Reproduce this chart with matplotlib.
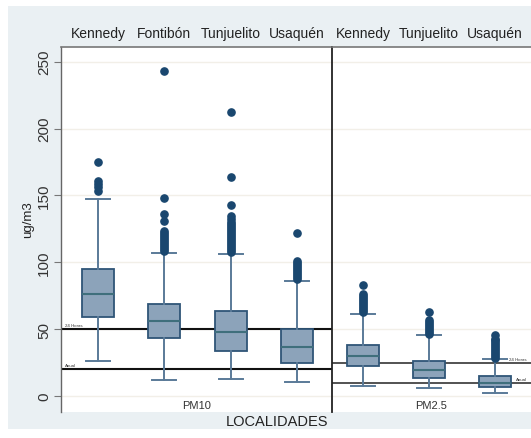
import matplotlib
matplotlib.use('Agg')
import matplotlib.pyplot as plt
from matplotlib.patches import Rectangle

plt.rcParams['font.family'] = ['Liberation Sans', 'DejaVu Sans']

# ---------------- data ----------------
pm10_sites = ['Kennedy', 'Fontibón', 'Tunjuelito', 'Usaquén']
pm10_whislo = [26.5, 12, 12.5, 10.2]
pm10_q1 = [59, 43.4, 33.9, 24.7]
pm10_med = [76.3, 55.9, 47.7, 36.4]
pm10_q3 = [94.6, 68.6, 63.6, 50.4]
pm10_whishi = [147.5, 107, 106.5, 86.3]
pm10_fliers = [
    [153, 156, 158.7, 161, 175],
    [108.5, 110, 111.5, 113, 114.5, 116, 117.5, 119, 120.5, 122, 123.7,
     130.5, 136, 148, 243],
    [107.5, 109, 110.5, 112, 113.5, 115, 116.5, 118, 119.5, 121, 122.5,
     124, 125.5, 127, 128.5, 130, 132, 134.6, 143, 164, 212.5],
    [87.5, 89, 90.5, 92, 93.5, 95, 96.5, 98, 99.5, 101, 122],
]

pm25_sites = ['Kennedy', 'Tunjuelito', 'Usaquén']
pm25_whislo = [7.7, 5.7, 2.2]
pm25_q1 = [22.5, 13.2, 7.0]
pm25_med = [30.2, 19.7, 9.7]
pm25_q3 = [38.2, 26.0, 15.0]
pm25_whishi = [61.6, 45.9, 27.7]
pm25_fliers = [
    [62.5, 64, 65.5, 67, 68.5, 70, 71.5, 73, 74.5, 76, 83.3],
    [46.5, 48, 49.5, 51, 52.5, 54, 55.5, 56.5, 62.6],
    [28.5, 30, 31.5, 33, 34.5, 36, 37.5, 39, 40.5, 42, 42.7, 45.6],
]

pm10_limits = [50, 20]
pm25_limits = [25, 10]
limit_labels = ['24 Horas', 'Anual']
panel_labels = ['PM10', 'PM2.5']
yticks = [0, 50, 100, 150, 200, 250]

# ---------------- style ----------------
BG = '#eaf0f3'
BOX_FILL = '#8ca3ba'
BOX_EDGE = '#2f5577'
MED = '#3f6f7c'
WHISK = '#5a7a98'
FLIER = '#1a476f'

W, H = 531, 439
fig = plt.figure(figsize=(W / 100, H / 100), dpi=100, facecolor='white')
fig.patches.append(Rectangle((8 / W, 1 - 430 / H), 1 - 8 / W, (430 - 7) / H,
                             transform=fig.transFigure, facecolor=BG,
                             edgecolor='none', zorder=-10))

top_px, bot_px = 48, 413
x0, xdiv, x1 = 61, 332, 531
ax1 = fig.add_axes([x0 / W, 1 - bot_px / H, (xdiv - x0) / W, (bot_px - top_px) / H])
ax2 = fig.add_axes([xdiv / W, 1 - bot_px / H, (x1 - xdiv) / W, (bot_px - top_px) / H],
                   sharey=ax1)

YLIM = (-12, 261)


def make_stats(lo, q1, med, q3, hi, fl):
    return [dict(whislo=a, q1=b, med=c, q3=d, whishi=e, fliers=f)
            for a, b, c, d, e, f in zip(lo, q1, med, q3, hi, fl)]


def draw_panel(ax, stats, sites, limits, xlim, label_side, panel_label, ref_color, ref_lw):
    ax.set_facecolor('white')
    for y in yticks:
        ax.axhline(y, color='#f2efe8', lw=1.0, zorder=0)
    pos = list(range(1, len(stats) + 1))
    ax.bxp(stats, positions=pos, widths=0.48, patch_artist=True,
           showfliers=True, capwidths=0.36,
           boxprops=dict(facecolor=BOX_FILL, edgecolor=BOX_EDGE, lw=1.3),
           medianprops=dict(color=MED, lw=1.5),
           whiskerprops=dict(color=WHISK, lw=1.4),
           capprops=dict(color=WHISK, lw=1.4),
           flierprops=dict(marker='o', markerfacecolor=FLIER, markeredgecolor=FLIER,
                           markersize=5.2, linestyle='none'),
           zorder=3)
    for v, lab in zip(limits, limit_labels):
        ax.axhline(v, color=ref_color, lw=ref_lw, zorder=2)
        if label_side == 'left':
            ax.text(xlim[0] + 0.06, v + 1.5, lab, fontsize=3.2, color='#333333',
                    ha='left', va='bottom', zorder=4)
        else:
            ax.text(xlim[1] - 0.06, v + 1.2, lab, fontsize=3.2, color='#333333',
                    ha='right', va='bottom', zorder=4)
    ax.set_xlim(*xlim)
    ax.set_ylim(*YLIM)
    ax.xaxis.tick_top()
    ax.set_xticks(pos)
    ax.set_xticklabels(sites, fontsize=10, color='#222222')
    ax.tick_params(axis='x', length=0, pad=5)
    ax.text(sum(xlim) / 2, -7, panel_label, fontsize=8, color='#333333',
            ha='center', va='center')


draw_panel(ax1, make_stats(pm10_whislo, pm10_q1, pm10_med, pm10_q3, pm10_whishi, pm10_fliers),
           pm10_sites, pm10_limits, (0.44, 4.53), 'left', panel_labels[0], '#111111', 1.5)
draw_panel(ax2, make_stats(pm25_whislo, pm25_q1, pm25_med, pm25_q3, pm25_whishi, pm25_fliers),
           pm25_sites, pm25_limits, (0.53, 3.55), 'right', panel_labels[1], '#444444', 1.3)

# y axis
ax1.set_yticks(yticks)
ax1.set_yticklabels([str(t) for t in yticks], rotation=90, va='center',
                    fontsize=11, color='#333333')
ax1.tick_params(axis='y', direction='out', length=5, color='#777777', pad=2)
ax2.tick_params(axis='y', left=False, labelleft=False)

for ax in (ax1, ax2):
    ax.spines['right'].set_visible(False)
    ax.spines['bottom'].set_visible(False)
    ax.spines['top'].set_color('#777777')
    ax.spines['top'].set_linewidth(1.2)
ax1.spines['left'].set_color('#666666')
ax1.spines['left'].set_linewidth(1.0)
ax2.spines['left'].set_color('#222222')
ax2.spines['left'].set_linewidth(1.3)

fig.text(28 / W, 1 - 220 / H, 'ug/m3', rotation=90, fontsize=9.5, color='#222222',
         ha='center', va='center')
fig.text(277 / W, 1 - 422 / H, 'LOCALIDADES', fontsize=10.5, color='#222222',
         ha='center', va='center')

fig.savefig('out.png', dpi=100, facecolor='white')
